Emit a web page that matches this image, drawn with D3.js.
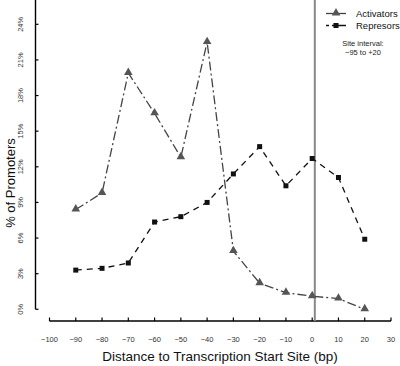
<!DOCTYPE html>
<html>
<head>
<meta charset="utf-8">
<script src="https://cdn.jsdelivr.net/npm/d3@7"></script>
<style>
  body { margin: 0; background: #fff; }
  text { font-family: "Liberation Sans", Arial, sans-serif; }
</style>
</head>
<body>
<svg id="chart" width="400" height="366"></svg>
<script>
// data
const positions = [-90, -80, -70, -60, -50, -40, -30, -20, -10, 0, 10, 20];
const activators = [8.4, 9.8, 19.9, 16.5, 12.8, 22.5, 4.9, 2.2, 1.4, 1.1, 0.9, 0.0];
const repressors = [3.3, 3.45, 3.9, 7.35, 7.8, 9.0, 11.4, 13.7, 10.4, 12.7, 11.1, 5.9];
const xTicks = [-100, -90, -80, -70, -60, -50, -40, -30, -20, -10, 0, 10, 20, 30];
const yTicks = [0, 3, 6, 9, 12, 15, 18, 21, 24];
const tssLine = 1;

let svg = d3.select("#chart");

let xscale = d3.scaleLinear()
                .domain([-100, 30])
                .range([49.5, 391]);
let yscale = d3.scaleLinear()
                .domain([0, 24])
                .range([309.3, 24.3]);

let fmtX = d => d < 0 ? "\u2212" + Math.abs(d) : String(d);

// x axis (ticks pointing up)
let xg = svg.append("g").attr("transform", "translate(0,321)");
xg.append("line")
  .attr("x1", xscale(-100)).attr("x2", xscale(30))
  .attr("stroke", "#000").attr("stroke-width", 1.4);
xg.selectAll(".xt").data(xTicks).enter().append("line")
  .attr("x1", d => xscale(d)).attr("x2", d => xscale(d))
  .attr("y1", 0).attr("y2", -3.5)
  .attr("stroke", "#000").attr("stroke-width", 1.2);
xg.selectAll(".xl").data(xTicks).enter().append("text")
  .attr("x", d => xscale(d)).attr("y", 21)
  .attr("text-anchor", "middle")
  .attr("font-size", 7.5).attr("fill", "#333")
  .text(fmtX);

// y axis (ticks pointing right)
let yg = svg.append("g").attr("transform", "translate(35.5,0)");
yg.append("line")
  .attr("y1", 0).attr("y2", yscale(0))
  .attr("stroke", "#000").attr("stroke-width", 1.4);
yg.selectAll(".yt").data(yTicks).enter().append("line")
  .attr("y1", d => yscale(d)).attr("y2", d => yscale(d))
  .attr("x1", 0).attr("x2", 3)
  .attr("stroke", "#000").attr("stroke-width", 1.2);
yg.selectAll(".yl").data(yTicks).enter().append("text")
  .attr("transform", d => "translate(-12.5," + yscale(d) + ") rotate(-90)")
  .attr("text-anchor", "middle")
  .attr("font-size", 7.5).attr("fill", "#333")
  .text(d => d + "%");

// axis titles
svg.append("text")
   .attr("x", 220).attr("y", 361)
   .attr("text-anchor", "middle")
   .attr("font-size", 13.5).attr("fill", "#111")
   .text("Distance to Transcription Start Site (bp)");
svg.append("text")
   .attr("transform", "translate(14.5,183) rotate(-90)")
   .attr("text-anchor", "middle")
   .attr("font-size", 13).attr("fill", "#111")
   .text("% of Promoters");

// transcription start site line
svg.append("line")
   .attr("x1", xscale(tssLine)).attr("x2", xscale(tssLine))
   .attr("y1", 0).attr("y2", 321)
   .attr("stroke", "#888").attr("stroke-width", 2);

let actData = positions.map((p, i) => ({x: p, y: activators[i]}));
let repData = positions.map((p, i) => ({x: p, y: repressors[i]}));

let dline = d3.line()
              .x(d => xscale(d.x))
              .y(d => yscale(d.y));

svg.append("path")
   .datum(repData)
   .attr("fill", "none")
   .attr("stroke", "#111")
   .attr("stroke-width", 1.3)
   .attr("stroke-dasharray", "6,5")
   .attr("d", dline);
svg.append("path")
   .datum(actData)
   .attr("fill", "none")
   .attr("stroke", "#444")
   .attr("stroke-width", 1.3)
   .attr("stroke-dasharray", "9,3,2,3")
   .attr("d", dline);

let tri = d3.symbol().type(d3.symbolTriangle).size(32);
svg.selectAll(".tri").data(actData).enter().append("path")
   .attr("d", tri)
   .attr("transform", d => "translate(" + xscale(d.x) + "," + (yscale(d.y) - 0.5) + ")")
   .attr("fill", "#555");
svg.selectAll(".sq").data(repData).enter().append("rect")
   .attr("x", d => xscale(d.x) - 2.5).attr("y", d => yscale(d.y) - 2.5)
   .attr("width", 5).attr("height", 5)
   .attr("fill", "#111");

// legend
let lg = svg.append("g");
lg.append("line").attr("x1", 326).attr("x2", 346).attr("y1", 13.5).attr("y2", 13.5)
  .attr("stroke", "#444").attr("stroke-width", 1.3);
lg.append("path").attr("d", tri).attr("transform", "translate(336,13)").attr("fill", "#555");
lg.append("line").attr("x1", 326).attr("x2", 346).attr("y1", 25.5).attr("y2", 25.5)
  .attr("stroke", "#111").attr("stroke-width", 1.3).attr("stroke-dasharray", "3,3,14");
lg.append("rect").attr("x", 333.5).attr("y", 23).attr("width", 5).attr("height", 5).attr("fill", "#111");
lg.append("text").attr("x", 356).attr("y", 17).attr("font-size", 9.5).attr("fill", "#111").text("Activators");
lg.append("text").attr("x", 356).attr("y", 29).attr("font-size", 9.5).attr("fill", "#111").text("Represors");
lg.append("text").attr("x", 363).attr("y", 46).attr("text-anchor", "middle")
  .attr("font-size", 7.5).attr("fill", "#222").text("Site interval:");
lg.append("text").attr("x", 363).attr("y", 55).attr("text-anchor", "middle")
  .attr("font-size", 7.5).attr("fill", "#222").text("\u221295 to +20");
</script>
</body>
</html>
